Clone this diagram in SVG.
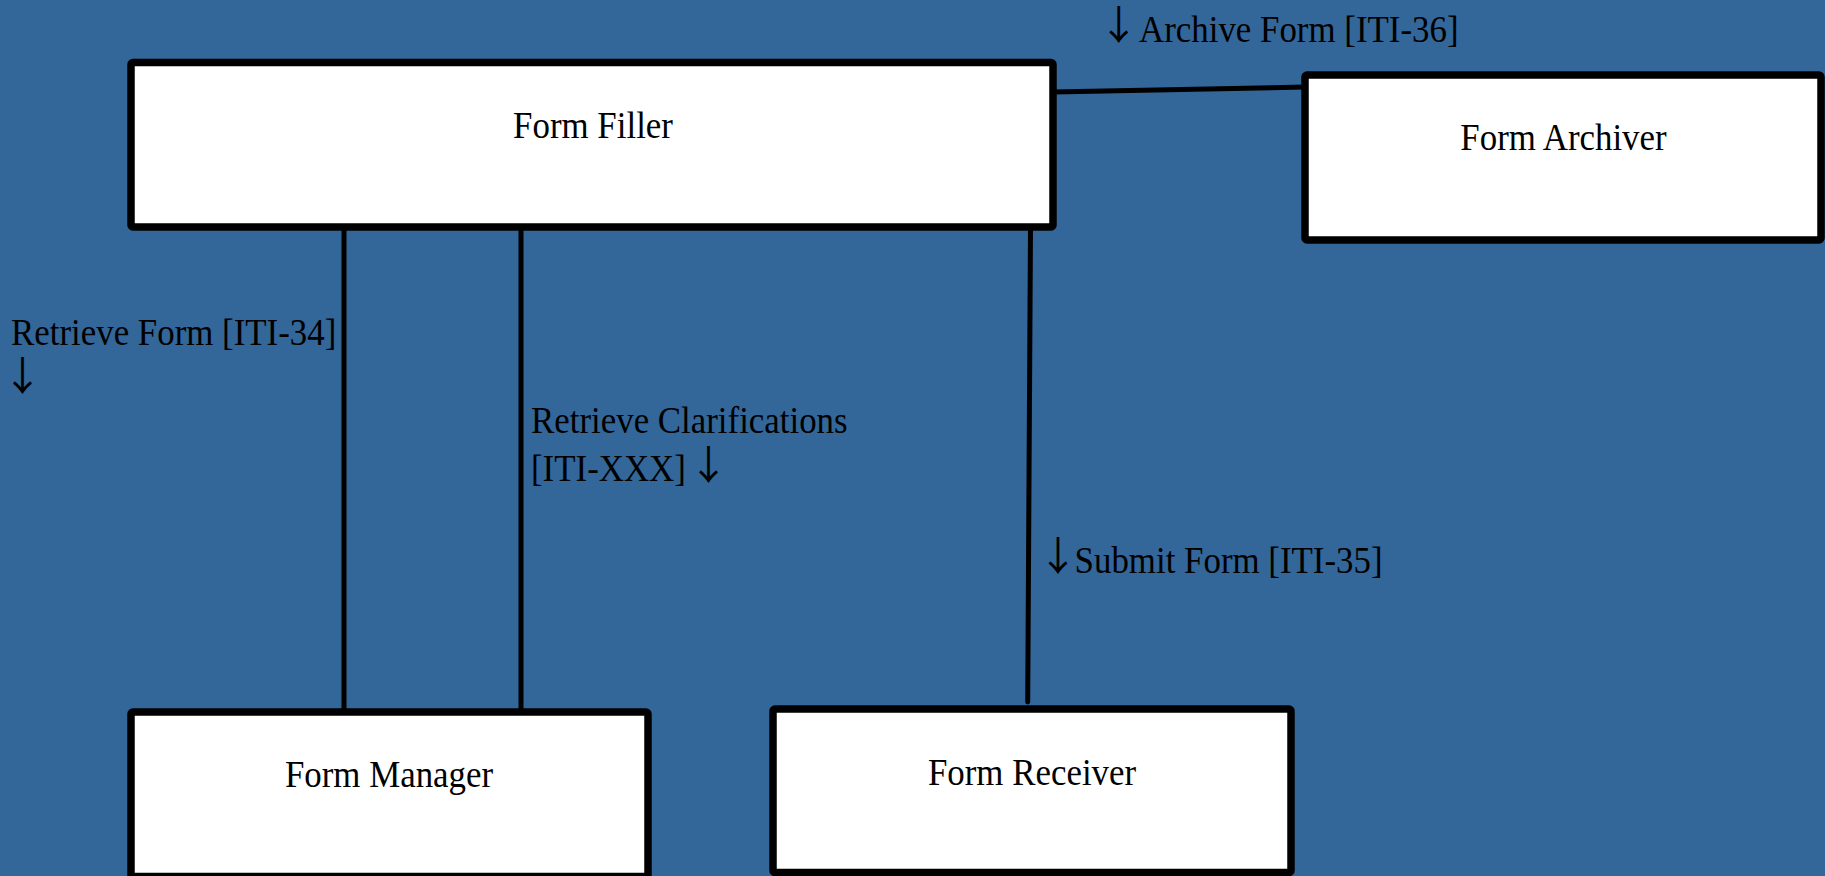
<svg xmlns="http://www.w3.org/2000/svg" width="1825" height="876" viewBox="0 0 1825 876">
<style>
.bg{fill:#336699}
.box{fill:#ffffff;stroke:#000000;stroke-width:7.5;stroke-linejoin:round}
.conn{stroke:#000000;stroke-width:5;fill:none;stroke-linecap:round}
text{font-family:"Liberation Serif","Times New Roman",serif;font-size:37.5px;fill:#000000}
.c{text-anchor:middle}
.ar{font-family:"Noto Sans CJK JP","DejaVu Sans",sans-serif;font-size:40px;text-anchor:middle}
</style>
<rect class="bg" x="0" y="0" width="1825" height="876"/>
<g id="connectors">
<line class="conn" x1="1053" y1="92" x2="1305" y2="87"/>
<line class="conn" x1="344" y1="227" x2="344" y2="712"/>
<line class="conn" x1="521" y1="227" x2="521" y2="712"/>
<line class="conn" x1="1030.5" y1="227" x2="1027.7" y2="702"/>
<text class="ar" x="1118.7" y="39">↓</text>
<text transform="matrix(0.93 0 0 1 1139 42)">Archive Form [ITI-36]</text>
<text transform="matrix(0.93 0 0 1 11 345)">Retrieve Form [ITI-34]</text>
<text class="ar" x="22.5" y="390">↓</text>
<text transform="matrix(0.93 0 0 1 531 433)">Retrieve Clarifications<tspan x="0" y="48">[ITI-XXX]</tspan></text>
<text class="ar" x="708.5" y="478.7">↓</text>
<text class="ar" x="1058" y="570">↓</text>
<text transform="matrix(0.93 0 0 1 1074.6 573)">Submit Form [ITI-35]</text>
</g>
<g id="form-filler">
<rect class="box" x="131" y="62.5" width="922" height="164.5" rx="2"/>
<text class="c" transform="matrix(0.93 0 0 1 593 138)">Form Filler</text>
</g>
<g id="form-archiver">
<rect class="box" x="1305" y="75" width="516" height="165" rx="2"/>
<text class="c" transform="matrix(0.93 0 0 1 1563.5 150)">Form Archiver</text>
</g>
<g id="form-manager">
<rect class="box" x="131" y="712" width="517" height="164.5" rx="2"/>
<text class="c" transform="matrix(0.93 0 0 1 389 787)">Form Manager</text>
</g>
<g id="form-receiver">
<rect class="box" x="773" y="709" width="518" height="163.5" rx="2"/>
<text class="c" transform="matrix(0.93 0 0 1 1032 785)">Form Receiver</text>
</g>
</svg>
